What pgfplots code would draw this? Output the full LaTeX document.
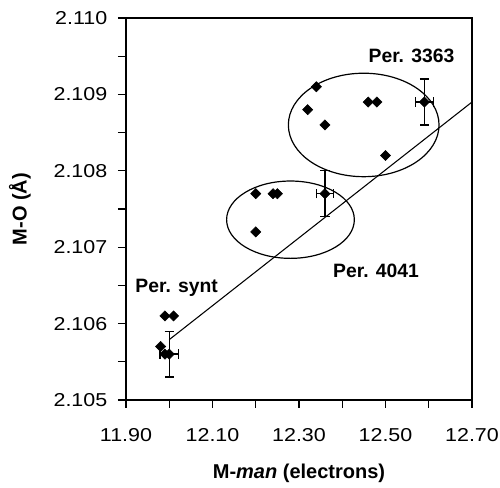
\documentclass[border=0pt]{standalone}
\usepackage{fontspec}
\setmainfont{Liberation Sans}
\newfontfamily\tickfont[FakeStretch=1.15]{Liberation Sans}
\usepackage{pgfplots}
\pgfplotsset{compat=1.18}
\begin{document}
\begin{tikzpicture}
\begin{axis}[
  scale only axis,
  width=259.5pt, height=286.5pt,
  axis lines=box,
  xmin=11.9, xmax=12.7, ymin=2.105, ymax=2.110,
  xtick={11.9,12.1,12.3,12.5,12.7},
  minor xtick={12.0,12.2,12.4,12.6},
  ytick={2.105,2.106,2.107,2.108,2.109,2.110},
  minor ytick={2.1055,2.1065,2.1075,2.1085,2.1095},
  scaled ticks=false,
  xtick pos=bottom, ytick pos=left,
  tick align=outside, major tick length=6pt, minor tick length=6pt,
  tick style={black, line width=0.9pt},
  axis line style={line width=1pt},
  /pgf/number format/assume math mode=true,
  ticklabel style={font=\tickfont\fontsize{14}{16}\selectfont},
  xticklabel style={yshift=-12pt, /pgf/number format/.cd, fixed, fixed zerofill, precision=2},
  yticklabel style={xshift=-4.5pt, /pgf/number format/.cd, fixed, fixed zerofill, precision=3},
  xlabel={\textbf{M-\textit{man} (electrons)}},
  ylabel={\textbf{M-O (Å)}},
  xlabel style={font=\fontsize{15}{17}\selectfont, at={([yshift=-55pt]axis description cs:0.5,0)}, anchor=center},
  ylabel style={font=\fontsize{15}{17}\selectfont, at={([xshift=-79.5pt]axis description cs:0,0.5)}, anchor=center},
  clip=false,
]
% regression line
\addplot[black, line width=0.8pt, mark=none] coordinates {(12.0,2.10579) (12.70,2.1089)};
% all points
\addplot[only marks, mark=square*, mark size=2.7pt, mark options={rotate=45, fill=black, draw=black}] coordinates {
(12.34,2.1091) (12.32,2.1088) (12.36,2.1086) (12.46,2.1089) (12.48,2.1089) (12.50,2.1082)
(12.20,2.1077) (12.24,2.1077) (12.25,2.1077) (12.20,2.1072)
(11.99,2.1061) (12.01,2.1061) (11.98,2.1057) (11.99,2.1056)
};
% points with error bars
\addplot[only marks, mark=square*, mark size=2.7pt, mark options={rotate=45, fill=black, draw=black},
  error bars/.cd, x dir=both, x explicit, y dir=both, y explicit,
  error bar style={line width=1pt, black},
  error mark=-,
  error mark options={rotate=90, line width=1pt, mark size=3.5pt, black}]
  coordinates {
(12.59,2.1089) +- (0.021,0.0003)
(12.36,2.1077) +- (0.020,0.0003)
(12.00,2.1056) +- (0.021,0.0003)
};
\draw[line width=0.9pt] (axis cs:12.4496,2.1086) ellipse [x radius=56.5pt, y radius=38.8pt];
\draw[line width=0.9pt] (axis cs:12.2803,2.10736) ellipse [x radius=47.9pt, y radius=29pt];
\node[font=\bfseries\fontsize{14.5}{16}\selectfont] at (axis cs:12.56,2.1095) {Per. 3363};
\node[font=\bfseries\fontsize{14.5}{16}\selectfont] at (axis cs:12.478,2.10669) {Per. 4041};
\node[font=\bfseries\fontsize{14.5}{16}\selectfont] at (axis cs:12.017,2.10647) {Per. synt};
\draw[line width=1pt] (rel axis cs:0,0) rectangle (rel axis cs:1,1);
\end{axis}
\pgfresetboundingbox
\path[use as bounding box] ([shift={(-94.5pt,-66pt)}]current axis.south west) rectangle ([shift={(280.5pt,300pt)}]current axis.south west);
\end{tikzpicture}
\end{document}
